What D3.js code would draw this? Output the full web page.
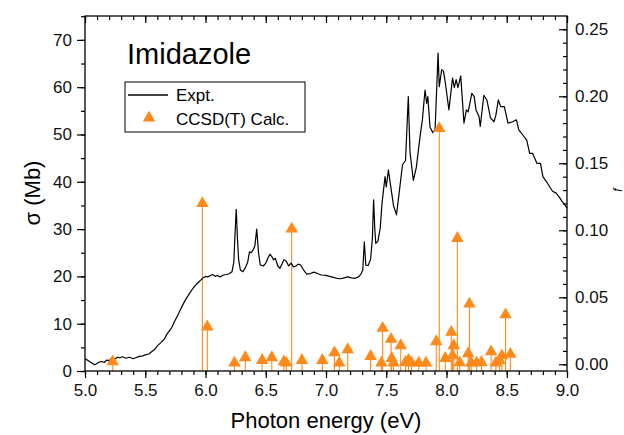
<!DOCTYPE html>
<html>
<head>
<meta charset="utf-8">
<script src="https://cdn.jsdelivr.net/npm/d3@7"></script>
<style>
  body { margin: 0; background: #fff; }
  svg { font-family: Arial, "Liberation Sans", sans-serif; }
</style>
</head>
<body>
<div id="chart"></div>
<script>
// experimental cross section (eV, Mb)
const exptEnergy = [5.00,5.02,5.05,5.08,5.10,5.12,5.14,5.16,5.18,5.20,5.22,5.24,5.27,5.29,5.31,5.34,5.37,5.40,5.42,5.45,5.48,5.50,5.53,5.55,5.58,5.60,5.63,5.66,5.68,5.70,5.72,5.74,5.76,5.78,5.80,5.82,5.84,5.86,5.88,5.90,5.92,5.94,5.96,5.98,6.00,6.02,6.04,6.06,6.08,6.10,6.12,6.15,6.18,6.20,6.22,6.235,6.245,6.255,6.265,6.275,6.29,6.31,6.33,6.35,6.365,6.38,6.395,6.41,6.425,6.44,6.455,6.48,6.50,6.52,6.535,6.55,6.565,6.58,6.60,6.618,6.635,6.65,6.67,6.69,6.71,6.73,6.75,6.77,6.79,6.81,6.84,6.87,6.90,6.93,6.96,7.00,7.03,7.06,7.09,7.12,7.15,7.18,7.21,7.24,7.27,7.29,7.305,7.318,7.33,7.35,7.37,7.385,7.395,7.405,7.413,7.43,7.45,7.465,7.49,7.50,7.518,7.53,7.56,7.585,7.61,7.635,7.66,7.683,7.697,7.725,7.75,7.78,7.80,7.815,7.822,7.835,7.845,7.863,7.885,7.905,7.915,7.93,7.94,7.96,7.975,7.99,8.02,8.05,8.065,8.08,8.095,8.118,8.145,8.165,8.18,8.21,8.23,8.245,8.27,8.28,8.31,8.335,8.365,8.394,8.41,8.43,8.45,8.48,8.51,8.55,8.58,8.60,8.63,8.666,8.69,8.715,8.75,8.78,8.80,8.83,8.855,8.88,8.91,8.94,8.96,8.98,9.00];
const exptSigma = [2.6,2.3,1.8,1.3,1.6,1.9,2.0,1.8,2.3,2.2,2.7,2.4,2.9,2.8,3.0,2.7,2.9,2.6,2.8,3.1,3.2,3.4,3.6,4.0,4.6,5.3,6.0,6.8,7.8,8.5,9.2,10.3,11.3,12.3,13.4,14.4,15.3,16.1,16.9,17.6,18.2,18.7,19.2,19.7,20.0,19.9,20.2,20.4,20.0,20.2,19.9,20.3,20.4,20.6,21.0,23.0,29.0,34.2,28.0,23.5,21.3,21.0,21.8,23.0,25.2,25.0,25.6,26.5,30.0,25.0,22.4,22.2,22.8,24.0,24.7,24.2,23.5,23.8,22.2,21.7,22.6,23.5,23.2,22.2,22.8,22.0,22.2,22.6,22.4,21.5,20.5,20.6,20.9,20.6,20.3,20.2,20.0,19.8,19.6,19.5,19.7,19.9,19.7,19.6,19.9,20.5,21.3,27.3,22.4,22.3,23.6,28.1,36.2,30.0,27.0,27.4,30.2,35.5,41.1,38.9,42.5,40.3,35.0,33.0,38.3,43.6,44.5,58.0,46.3,40.3,43.1,49.5,53.1,57.5,59.4,56.6,58.0,51.6,50.4,51.0,57.3,67.2,60.1,63.7,63.4,61.0,55.2,61.9,59.9,61.6,59.9,62.4,52.4,55.2,54.8,58.7,58.0,55.2,53.8,51.7,58.3,57.3,53.5,52.7,54.1,57.3,55.9,55.9,52.4,52.7,53.1,51.0,50.0,48.8,46.0,46.0,43.9,43.9,41.1,40.0,39.0,38.0,37.6,36.6,35.8,35.2,34.4];

// CCSD(T) oscillator strengths (eV, f)
const calcEnergy = [5.23,5.974,6.015,6.24,6.33,6.47,6.55,6.65,6.67,6.715,6.80,6.97,7.07,7.11,7.18,7.37,7.46,7.47,7.54,7.545,7.56,7.62,7.66,7.685,7.71,7.77,7.83,7.915,7.94,7.99,8.04,8.05,8.06,8.09,8.11,8.18,8.19,8.205,8.25,8.29,8.37,8.41,8.44,8.46,8.49,8.53];
const calcF = [0.002,0.120,0.028,0.001,0.005,0.003,0.005,0.002,0.001,0.101,0.003,0.003,0.0087,0.001,0.011,0.006,0.001,0.027,0.0187,0.0045,0.001,0.014,0.0015,0.003,0.001,0.001,0.001,0.017,0.176,0.0045,0.024,0.0065,0.014,0.094,0.0012,0.008,0.045,0.001,0.001,0.0015,0.0094,0.001,0.003,0.0064,0.037,0.0075];

const xTicks = [5.0,5.5,6.0,6.5,7.0,7.5,8.0,8.5,9.0];
const yTicks = [0,10,20,30,40,50,60,70];
const fTicks = [0.00,0.05,0.10,0.15,0.20,0.25];
const legendLabels = ["Expt.", "CCSD(T) Calc."];

const W = 624, H = 435;
const plot = {left: 85, right: 567, top: 16, bottom: 371};
const orange = "#ff8a1c";

const svg = d3.select("#chart").append("svg")
    .attr("width", W)
    .attr("height", H);

const x = d3.scaleLinear().domain([5, 9]).range([plot.left, plot.right]);
const y = d3.scaleLinear().domain([0, 75.05]).range([plot.bottom, plot.top]);
const yf = d3.scaleLinear().domain([-0.005, 0.2599]).range([plot.bottom, plot.top]);

// sticks
const calc = calcEnergy.map((e, i) => ({e: e, f: calcF[i]}));
svg.append("g").selectAll("line")
    .data(calc)
  .enter().append("line")
    .attr("x1", d => x(d.e)).attr("x2", d => x(d.e))
    .attr("y1", plot.bottom).attr("y2", d => yf(d.f))
    .attr("stroke", orange)
    .attr("stroke-width", 1.1);

// experiment curve
const expt = exptEnergy.map((e, i) => [e, exptSigma[i]]);
svg.append("path")
    .datum(expt)
    .attr("fill", "none")
    .attr("stroke", "#000")
    .attr("stroke-width", 1.2)
    .attr("stroke-linejoin", "round")
    .attr("d", d3.line().x(d => x(d[0])).y(d => y(d[1])));

// triangles
const tri = d3.symbol().type(d3.symbolTriangle).size(68);
svg.append("g").selectAll("path")
    .data(calc)
  .enter().append("path")
    .attr("transform", d => `translate(${x(d.e)},${yf(d.f)})`)
    .attr("d", tri)
    .attr("fill", orange);

// frame
svg.append("rect")
    .attr("x", plot.left).attr("y", plot.top)
    .attr("width", plot.right - plot.left).attr("height", plot.bottom - plot.top)
    .attr("fill", "none").attr("stroke", "#000").attr("stroke-width", 1.3);

function styleAxis(g) {
  g.select(".domain").remove();
  g.selectAll(".tick line").attr("stroke", "#000").attr("stroke-width", 1.2);
  g.selectAll("text").attr("font-size", 17).attr("fill", "#111");
}

const xMinor = d3.range(50, 91).map(v => v / 10);
const yMinor = d3.range(0, 76, 5);
const fMinor = d3.range(0, 26).map(v => v / 100);

// bottom
svg.append("g").attr("transform", `translate(0,${plot.bottom})`)
    .call(d3.axisBottom(x).tickValues(xMinor).tickSize(4).tickFormat(""))
    .call(styleAxis);
svg.append("g").attr("transform", `translate(0,${plot.bottom})`)
    .call(d3.axisBottom(x).tickValues(xTicks).tickSize(7).tickPadding(6).tickFormat(d3.format(".1f")))
    .call(styleAxis);

// top (inward)
svg.append("g").attr("transform", `translate(0,${plot.top})`)
    .call(d3.axisBottom(x).tickValues(xMinor).tickSize(4).tickFormat(""))
    .call(styleAxis);
svg.append("g").attr("transform", `translate(0,${plot.top})`)
    .call(d3.axisBottom(x).tickValues(xTicks).tickSize(7).tickFormat(""))
    .call(styleAxis);

// left
svg.append("g").attr("transform", `translate(${plot.left},0)`)
    .call(d3.axisLeft(y).tickValues(yMinor).tickSize(4).tickFormat(""))
    .call(styleAxis);
svg.append("g").attr("transform", `translate(${plot.left},0)`)
    .call(d3.axisLeft(y).tickValues(yTicks).tickSize(8).tickPadding(5))
    .call(styleAxis);

// right (ticks inward, labels outside)
svg.append("g").attr("transform", `translate(${plot.right},0)`)
    .call(d3.axisLeft(yf).tickValues(fMinor).tickSize(4).tickFormat(""))
    .call(styleAxis);
const rAxis = svg.append("g").attr("transform", `translate(${plot.right},0)`)
    .call(d3.axisLeft(yf).tickValues(fTicks).tickSize(8).tickFormat(d3.format(".2f")))
    .call(styleAxis);
rAxis.selectAll("text").attr("x", 8).attr("text-anchor", "start");

// axis titles
svg.append("text")
    .attr("x", 326).attr("y", 428)
    .attr("text-anchor", "middle")
    .attr("font-size", 22)
    .text("Photon energy (eV)");

svg.append("text")
    .attr("transform", "translate(40,193) rotate(-90)")
    .attr("text-anchor", "middle")
    .attr("font-size", 22)
    .text("σ (Mb)");

svg.append("text")
    .attr("transform", "translate(622,190) rotate(-90)")
    .attr("text-anchor", "middle")
    .attr("font-size", 12)
    .attr("font-style", "italic")
    .text("f");

// title
svg.append("text")
    .attr("x", 127).attr("y", 64)
    .attr("font-size", 29)
    .text("Imidazole");

// legend
const lg = svg.append("g");
lg.append("rect")
    .attr("x", 125).attr("y", 82)
    .attr("width", 180).attr("height", 50)
    .attr("fill", "#fff").attr("stroke", "#000").attr("stroke-width", 1);
lg.append("line")
    .attr("x1", 128).attr("x2", 168).attr("y1", 95).attr("y2", 95)
    .attr("stroke", "#000").attr("stroke-width", 1.3);
lg.append("path")
    .attr("transform", "translate(149,118)")
    .attr("d", tri)
    .attr("fill", orange);
lg.selectAll("text.lab")
    .data(legendLabels)
  .enter().append("text")
    .attr("class", "lab")
    .attr("x", 176)
    .attr("y", (d, i) => 101 + i * 24)
    .attr("font-size", 17)
    .text(d => d);
</script>
</body>
</html>
